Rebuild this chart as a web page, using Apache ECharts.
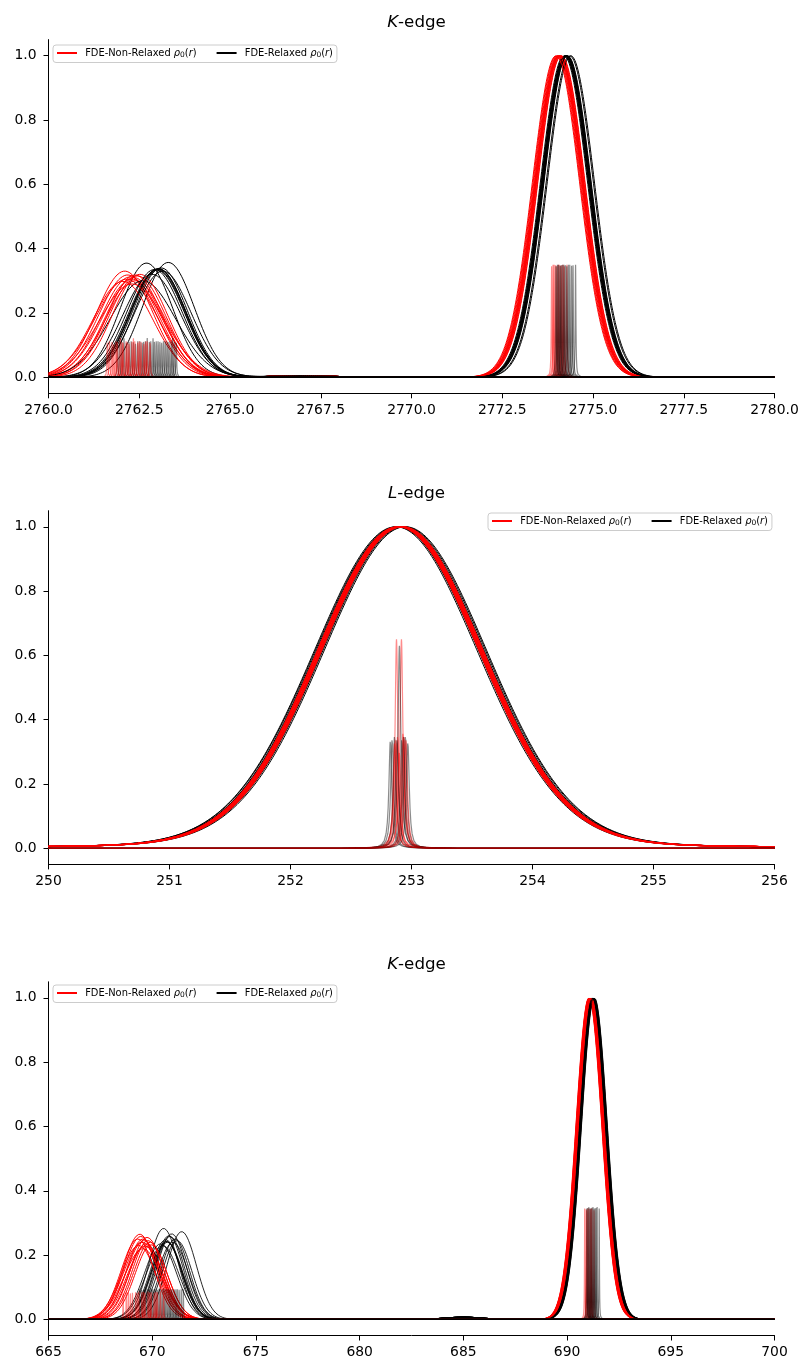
<!DOCTYPE html>
<html><head><meta charset="utf-8">
<script src="https://cdn.jsdelivr.net/npm/echarts@6/dist/echarts.min.js"></script>
<style>html,body{margin:0;padding:0;background:#fff}#c{width:804px;height:1363px}</style>
</head><body><div id="c"></div>
<script>
// ---------------- DATA ----------------
const Y_TICKS = [0, 0.2, 0.4, 0.6, 0.8, 1.0];
const TITLES = ['K', 'L', 'K'];
const LEGEND_NAMES = ['FDE-Non-Relaxed', 'FDE-Relaxed'];

// Panel 1 : K-edge 2760-2780  (pre-edge: [centre, height, sigma]; main: centre, height 1)
const K1_RANGE = [2760, 2780, 2.5];
const K1_NR_PRE = [[2762.10,0.330,0.78],[2762.18,0.318,0.80],[2762.25,0.312,0.80],[2762.30,0.305,0.82],[2762.35,0.310,0.78],[2762.40,0.300,0.82],[2762.15,0.305,0.86],[2762.45,0.315,0.78],[2762.30,0.290,0.90],[2762.52,0.320,0.76],[2762.05,0.298,0.82],[2762.38,0.318,0.76]];
const K1_NR_MAIN = [2774.00,2774.04,2774.08,2774.10,2774.12,2774.06,2774.02,2774.09,2774.07,2774.13,2774.05,2773.98];
const K1_R_PRE = [[2762.70,0.355,0.72],[2763.30,0.357,0.72],[2763.00,0.335,0.75],[2763.03,0.338,0.75],[2763.05,0.336,0.74],[2762.98,0.334,0.76],[2762.60,0.300,0.90],[2762.85,0.320,0.80],[2763.15,0.330,0.78],[2762.92,0.335,0.76],[2763.10,0.340,0.73],[2763.02,0.337,0.75]];
const K1_R_MAIN = [2774.20,2774.23,2774.25,2774.27,2774.29,2774.26,2774.22,2774.36,2774.39,2774.28,2774.24,2774.30];
const K1_MAIN_SIGMA = 0.65;
const K1_BUMP = [2767.0, 0.005, 0.8];
const K1_NR_STICKS = [[2761.62,0.115],[2761.68,0.12],[2761.75,0.118],[2761.80,0.11],[2761.86,0.12],[2761.90,0.118],[2761.98,0.122],[2762.03,0.117],[2762.06,0.115],[2762.14,0.12],[2762.18,0.116],[2762.22,0.112],[2762.30,0.118],[2762.34,0.121],[2762.38,0.12],[2762.46,0.115],[2762.50,0.12],[2762.55,0.118],[2762.63,0.112],[2762.68,0.119],[2762.72,0.12],[2762.80,0.115],
  [2773.86,0.345],[2773.90,0.35],[2773.93,0.35],[2773.97,0.348],[2774.00,0.345],[2774.04,0.35],[2774.07,0.35],[2774.11,0.347],[2774.14,0.348],[2774.18,0.35],[2774.21,0.345],[2774.28,0.35]];
const K1_R_STICKS = [[2761.90,0.11],[2761.96,0.12],[2762.02,0.118],[2762.08,0.121],[2762.15,0.115],[2762.22,0.118],[2762.28,0.12],[2762.34,0.117],[2762.40,0.112],[2762.46,0.12],[2762.52,0.12],[2762.58,0.115],[2762.62,0.118],[2762.67,0.12],[2762.72,0.122],[2762.78,0.118],[2762.82,0.12],[2762.88,0.121],[2762.92,0.118],[2762.97,0.12],[2763.02,0.12],[2763.07,0.118],[2763.12,0.115],[2763.17,0.12],[2763.22,0.12],[2763.27,0.119],[2763.32,0.118],[2763.38,0.12],[2763.42,0.122],[2763.47,0.118],[2763.52,0.115],
  [2773.98,0.345],[2774.02,0.35],[2774.05,0.35],[2774.09,0.347],[2774.12,0.348],[2774.16,0.35],[2774.20,0.35],[2774.24,0.348],[2774.28,0.345],[2774.32,0.35],[2774.36,0.35],[2774.41,0.347],[2774.45,0.348],[2774.52,0.35]];

// Panel 2 : L-edge 250-256  ([centre, sigma], height 1)
const L_RANGE = [250, 256, 1];
const L_NR = [[252.90,0.680],[252.91,0.680],[252.92,0.682],[252.89,0.680],[252.905,0.684],[252.915,0.678],[252.895,0.682],[252.925,0.680]];
const L_R = [[252.87,0.685],[252.94,0.685],[252.88,0.688],[252.93,0.684],[252.90,0.690],[252.92,0.686],[252.885,0.684],[252.95,0.684]];
const L_TAIL = [0.08, 0.8];   // lorentzian fraction, half width
const L_NR_STICKS = [[252.876,0.65],[252.917,0.65],[252.86,0.33],[252.885,0.35],[252.93,0.36],[252.955,0.34],[252.90,0.30],[252.87,0.34],[252.94,0.35]];
const L_R_STICKS = [[252.825,0.335],[252.84,0.34],[252.86,0.35],[252.90,0.63],[252.92,0.34],[252.95,0.35],[252.97,0.33],[252.88,0.34],[252.935,0.35]];

// Panel 3 : K-edge 665-700
const K3_RANGE = [665, 700, 5];
const K3_NR_PRE = [[669.40,0.265,0.80],[669.45,0.258,0.82],[669.55,0.250,0.80],[669.60,0.245,0.85],[669.90,0.240,0.80],[669.70,0.235,0.82],[669.35,0.230,0.85],[669.80,0.245,0.78],[669.50,0.240,0.88],[669.65,0.228,0.85],[669.30,0.250,0.80],[669.95,0.232,0.78],[669.75,0.255,0.80],[669.55,0.220,0.90]];
const K3_NR_MAIN = [691.05,691.08,691.10,691.12,691.14,691.16,691.07,691.11,691.13,691.09,691.15,691.06,691.17,691.12];
const K3_R_PRE = [[670.55,0.283,0.72],[671.42,0.273,0.72],[670.94,0.266,0.72],[670.70,0.242,0.75],[670.73,0.240,0.75],[670.68,0.243,0.74],[670.50,0.230,0.80],[670.86,0.258,0.72],[671.10,0.250,0.70],[670.65,0.248,0.75],[671.20,0.245,0.72],[670.80,0.260,0.70],[670.40,0.235,0.78],[671.00,0.240,0.74]];
const K3_R_MAIN = [691.20,691.22,691.24,691.26,691.28,691.30,691.32,691.23,691.27,691.25,691.29,691.21,691.31,691.26];
const K3_MAIN_SIGMA = 0.62;
const K3_BUMP = [685.0, 0.007, 0.9];
const K3_NR_STICKS = [[668.60,0.085],[668.75,0.09],[668.85,0.09],[668.95,0.086],[669.05,0.088],[669.20,0.09],[669.28,0.087],[669.35,0.092],[669.50,0.09],[669.58,0.091],[669.65,0.088],[669.80,0.092],[669.88,0.089],[669.95,0.09],[670.10,0.088],[670.18,0.091],[670.25,0.09],[670.40,0.092],[670.55,0.088],
  [690.85,0.35],[690.92,0.348],[690.95,0.345],[691.00,0.35],[691.05,0.35],[691.12,0.348],[691.16,0.35],[691.20,0.35],[691.30,0.345]];
const K3_R_STICKS = [[669.40,0.10],[669.50,0.097],[669.60,0.098],[669.70,0.1],[669.80,0.10],[669.88,0.099],[669.95,0.102],[670.02,0.1],[670.10,0.10],[670.18,0.1],[670.25,0.098],[670.33,0.101],[670.40,0.10],[670.48,0.099],[670.55,0.102],[670.62,0.1],[670.70,0.10],[670.78,0.1],[670.85,0.098],[670.92,0.1],[671.00,0.10],[671.08,0.099],[671.15,0.10],[671.22,0.1],[671.30,0.098],[671.40,0.1],[671.50,0.10],
  [690.95,0.35],[691.00,0.352],[691.05,0.355],[691.10,0.35],[691.15,0.35],[691.20,0.353],[691.25,0.355],[691.30,0.35],[691.35,0.35],[691.40,0.352],[691.45,0.355],[691.55,0.35]];
const STICK_GAMMA = [0.011, 0.014, 0.012];

// ---------------- BUILD ----------------
const RED = '#ff0000', BLACK = '#000000';
const gauss = (x, c, h, s) => h * Math.exp(-(x - c) * (x - c) / (2 * s * s));
const lor = (x, c, h, g) => h / (1 + ((x - c) / g) * ((x - c) / g));

function sample(fn, xmin, xmax, n) {
  const d = [];
  for (let i = 0; i <= n; i++) { const x = xmin + (xmax - xmin) * i / n; d.push([x, fn(x)]); }
  return d;
}
function lineSeries(gi, name, color, data, width, z) {
  return { type: 'line', name, xAxisIndex: gi, yAxisIndex: gi, data, symbol: 'none', showSymbol: false,
    silent: true, z: z || 2, lineStyle: { color, width: width || 1 }, itemStyle: { color }, animation: false };
}
const OFF = [0.4, 0.25, 0.15, 0.1, 0.07, 0.05, 0.035, 0.025, 0.018, 0.012, 0.008, 0.005, 0.003, 0.0015];
function stickSeries(gi, stick, color, xmin, xmax) {
  const [c, h] = stick;
  const xs = [xmin];
  OFF.forEach(o => xs.push(c - o));
  xs.push(c);
  OFF.slice().reverse().forEach(o => xs.push(c + o));
  xs.push(xmax);
  const data = xs.map(x => [x, lor(x, c, h, STICK_GAMMA[gi])]);
  return lineSeries(gi, 'stick', color, data, 1.2, 3);
}
function addSticks(gi, nr, r, a, b) {
  const N = Math.max(nr.length, r.length);
  for (let i = 0; i < N; i++) {
    if (r[i]) series.push(stickSeries(gi, r[i], 'rgba(0,0,0,0.45)', a, b));
    if (nr[i]) series.push(stickSeries(gi, nr[i], 'rgba(255,0,0,0.45)', a, b));
  }
}

const series = [];
// panel 1
{
  const [a, b] = K1_RANGE;
  const n = 1400;
  for (let i = 0; i < K1_NR_PRE.length; i++) {
    const p = K1_NR_PRE[i], m = K1_NR_MAIN[i];
    series.push(lineSeries(0, LEGEND_NAMES[0], RED, sample(x => gauss(x, p[0], p[1], p[2]) + gauss(x, m, 1, K1_MAIN_SIGMA) + gauss(x, K1_BUMP[0], K1_BUMP[1], K1_BUMP[2]), a, b, n)));
    const q = K1_R_PRE[i], r = K1_R_MAIN[i];
    series.push(lineSeries(0, LEGEND_NAMES[1], BLACK, sample(x => gauss(x, q[0], q[1], q[2]) + gauss(x, r, 1, K1_MAIN_SIGMA) + gauss(x, K1_BUMP[0], K1_BUMP[1], K1_BUMP[2]), a, b, n)));
  }
  addSticks(0, K1_NR_STICKS, K1_R_STICKS, a, b);
}
// panel 2
{
  const [a, b] = L_RANGE;
  const n = 900;
  const f = (c, s) => x => (1 - L_TAIL[0]) * gauss(x, c, 1, s) + L_TAIL[0] * lor(x, c, 1, L_TAIL[1]);
  L_R.forEach(([c, s]) => series.push(lineSeries(1, LEGEND_NAMES[1], BLACK, sample(f(c, s), a, b, n))));
  L_NR.forEach(([c, s]) => series.push(lineSeries(1, LEGEND_NAMES[0], RED, sample(f(c, s), a, b, n), 1.3)));
  addSticks(1, L_NR_STICKS, L_R_STICKS, a, b);
}
// panel 3
{
  const [a, b] = K3_RANGE;
  const n = 1400;
  for (let i = 0; i < K3_NR_PRE.length; i++) {
    const p = K3_NR_PRE[i], m = K3_NR_MAIN[i];
    series.push(lineSeries(2, LEGEND_NAMES[0], RED, sample(x => gauss(x, p[0], p[1], p[2]) + gauss(x, m, 1, K3_MAIN_SIGMA), a, b, n)));
    const q = K3_R_PRE[i], r = K3_R_MAIN[i];
    series.push(lineSeries(2, LEGEND_NAMES[1], 'rgba(0,0,0,0.85)', sample(x => gauss(x, q[0], q[1], q[2]) + gauss(x, r, 1, K3_MAIN_SIGMA) + gauss(x, K3_BUMP[0], K3_BUMP[1], K3_BUMP[2]), a, b, n)));
  }
  addSticks(2, K3_NR_STICKS, K3_R_STICKS, a, b);
}

const FONT = 'DejaVu Sans';
const GRID_TOPS = [39.6, 510.7, 981.8];
const GRID_H = 353.7;
const ranges = [K1_RANGE, L_RANGE, K3_RANGE];
const xFmt = [v => v.toFixed(1), v => String(Math.round(v)), v => String(Math.round(v))];

const grid = GRID_TOPS.map(t => ({ left: 48.5, width: 726, top: t, height: GRID_H }));
const xAxis = ranges.map((r, i) => ({
  type: 'value', gridIndex: i, min: r[0], max: r[1], interval: r[2], position: 'bottom',
  axisLine: { show: true, onZero: false, lineStyle: { color: '#000', width: 1 } },
  axisTick: { show: true, length: 5, lineStyle: { color: '#000', width: 1 } },
  axisLabel: { color: '#000', fontSize: 13.9, fontFamily: FONT, margin: 10, formatter: xFmt[i], showMinLabel: true, showMaxLabel: true },
  splitLine: { show: false }
}));
const yAxis = ranges.map((r, i) => ({
  type: 'value', gridIndex: i, min: -0.05, max: 1.05,
  axisLine: { show: true, lineStyle: { color: '#000', width: 1 } },
  axisTick: { show: true, length: 5, customValues: Y_TICKS, lineStyle: { color: '#000', width: 1 } },
  axisLabel: { color: '#000', fontSize: 13.9, fontFamily: FONT, margin: 12, customValues: Y_TICKS, formatter: v => v.toFixed(1) },
  splitLine: { show: false }
}));
const titleTops = [9, 480, 951];
const title = TITLES.map((t, i) => ({
  text: '{i|' + t + '}-edge', left: 411.5, top: titleTops[i], textAlign: 'center',
  textStyle: { fontSize: 16.7, fontWeight: 'normal', color: '#000', fontFamily: FONT,
    rich: { i: { fontStyle: 'italic', fontSize: 16.7, fontFamily: FONT, color: '#000' } } }
}));
const legPos = [[53, 45], [488, 513], [53, 985]];
const legend = legPos.map(p => ({
  left: p[0], top: p[1], orient: 'horizontal', data: LEGEND_NAMES, selectedMode: false,
  icon: 'rect', itemWidth: 20, itemHeight: 2, itemGap: 20,
  padding: [3, 4, 3, 4], borderColor: '#cccccc', borderWidth: 1, borderRadius: 3,
  backgroundColor: 'rgba(255,255,255,0.8)',
  formatter: name => ' ' + name + ' {i|ρ}{s|0}({i|r})',
  textStyle: { fontSize: 9.9, fontFamily: FONT, color: '#000',
    rich: { i: { fontStyle: 'italic', fontSize: 9.9, fontFamily: FONT },
            s: { fontSize: 7.5, fontFamily: FONT, verticalAlign: 'bottom', lineHeight: 13 } } }
}));

const chart = echarts.init(document.getElementById('c'), null, { renderer: 'canvas' });
chart.setOption({ animation: false, backgroundColor: '#fff', title, legend, grid, xAxis, yAxis, series });
</script></body></html>
